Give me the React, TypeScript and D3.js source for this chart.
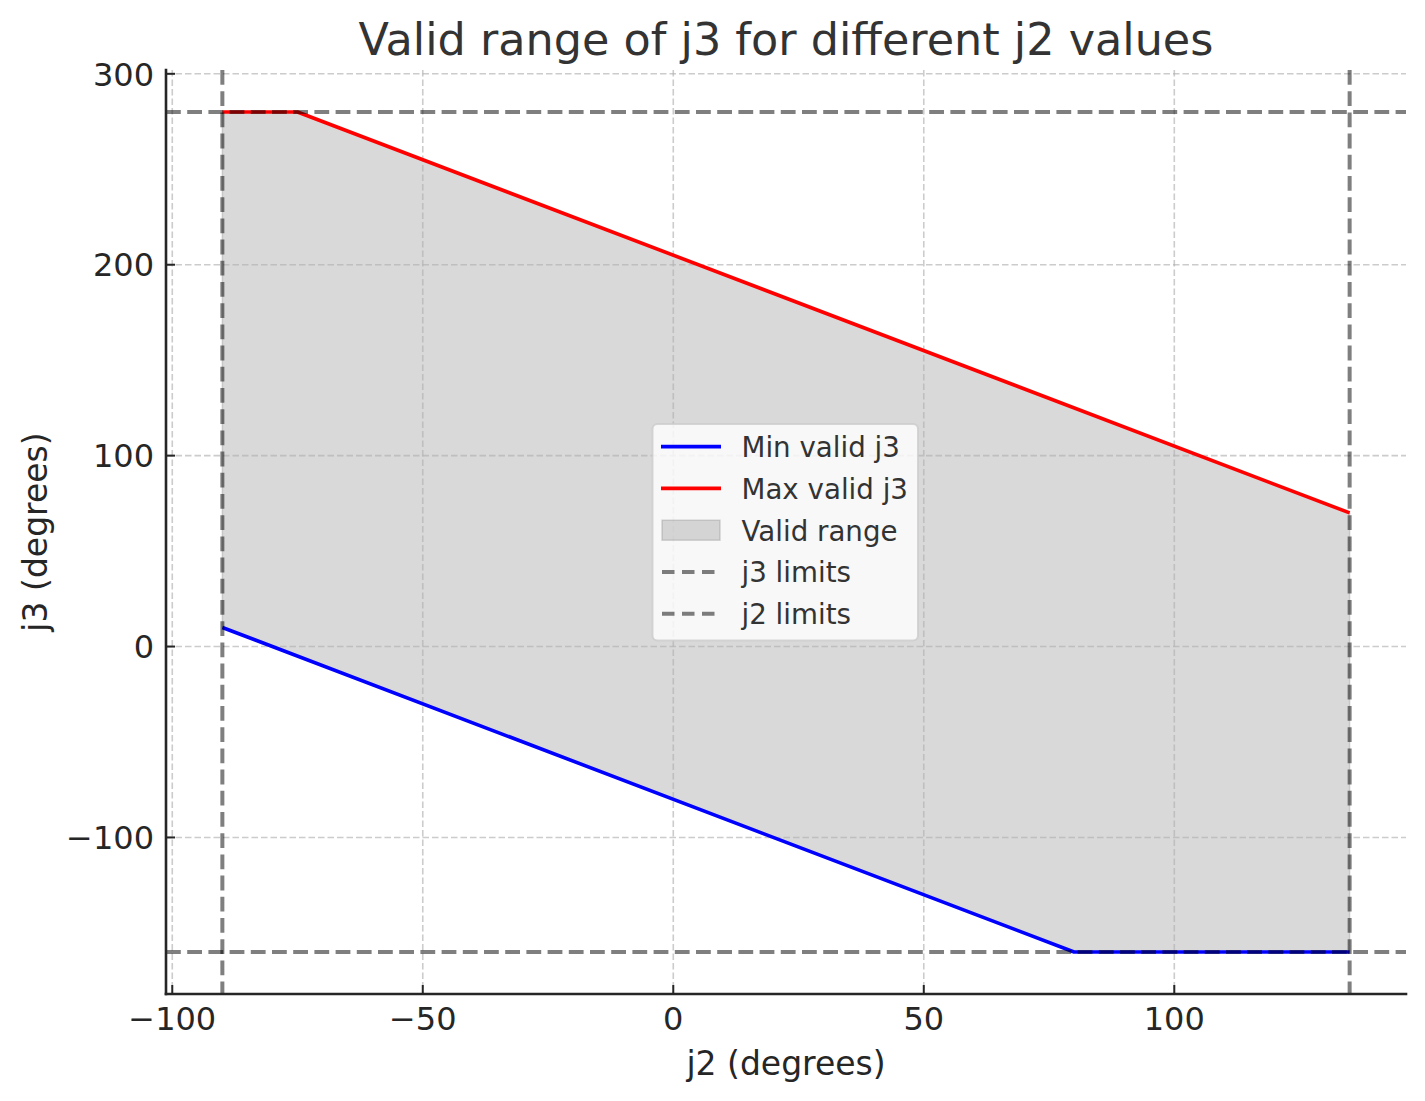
import React from "react";
import * as d3 from "d3";

// breakpoints of the valid-range boundaries
const minJ2 = [-90, 80, 135];
const minJ3 = [10, -160, -160];
const maxJ2 = [-90, -75, 135];
const maxJ3 = [280, 280, 70];

const j3Limits = [-160, 280];
const j2Limits = [-90, 135];

const xTicks = [-100, -50, 0, 50, 100];
const yTicks = [-100, 0, 100, 200, 300];

const legendLabels = ["Min valid j3", "Max valid j3", "Valid range", "j3 limits", "j2 limits"];

const FONT = "'DejaVu Sans', sans-serif";
const TEXT = "#262626";

export default function App() {
  const W = 1425;
  const H = 1101;
  const plot = { left: 166, right: 1406, top: 70, bottom: 994 };

  // matplotlib style 5% margins around the data range
  const x = d3.scaleLinear().domain([-101.25, 146.25]).range([plot.left, plot.right]);
  const y = d3.scaleLinear().domain([-182, 302]).range([plot.bottom, plot.top]);
  const fmt = d3.format("d");

  const minPts: [number, number][] = minJ2.map((v, i) => [v, minJ3[i]]);
  const maxPts: [number, number][] = maxJ2.map((v, i) => [v, maxJ3[i]]);

  const line = d3
    .line<[number, number]>()
    .x(d => x(d[0]))
    .y(d => y(d[1]));

  // polygon: upper boundary left->right, lower boundary back right->left
  const fillPath = line([...maxPts, ...minPts.slice().reverse()]) + "Z";

  const lg = { x: 652.5, y: 424, w: 265.5, h: 216.5 };
  const rowY = (i: number) => 446.6 + i * 41.8;
  const hx0 = 661;
  const hx1 = 721;

  return (
    <svg
      width={W}
      height={H}
      style={{ position: "absolute", left: 0, top: 0, background: "#fff" }}
      fontFamily={FONT}
    >
      <rect width={W} height={H} fill="#fff" />

      {/* valid range fill */}
      <path d={fillPath} fill="#808080" fillOpacity={0.3} stroke="#808080" strokeOpacity={0.3} strokeWidth={1.5} />

      {/* grid */}
      <g stroke="#b0b0b0" strokeOpacity={0.65} strokeWidth={1.6} strokeDasharray="6.5,3">
        {xTicks.map(t => (
          <line key={"gx" + t} x1={x(t)} x2={x(t)} y1={plot.top} y2={plot.bottom} />
        ))}
        {yTicks.map(t => (
          <line key={"gy" + t} x1={plot.left} x2={plot.right} y1={y(t)} y2={y(t)} />
        ))}
      </g>

      {/* boundaries */}
      <path d={line(minPts) || ""} fill="none" stroke="#0000ff" strokeWidth={3.6} strokeLinejoin="round" />
      <path d={line(maxPts) || ""} fill="none" stroke="#ff0000" strokeWidth={3.6} strokeLinejoin="round" />

      {/* limits */}
      <g stroke="#000" strokeOpacity={0.5} strokeWidth={4} strokeDasharray="14.8,6.4">
        {j3Limits.map(v => (
          <line key={"h" + v} x1={plot.left} x2={plot.right} y1={y(v)} y2={y(v)} />
        ))}
        {j2Limits.map(v => (
          <line key={"v" + v} x1={x(v)} x2={x(v)} y1={plot.top} y2={plot.bottom} />
        ))}
      </g>

      {/* spines */}
      <g stroke={TEXT} strokeWidth={2.6} strokeLinecap="square">
        <line x1={plot.left} x2={plot.left} y1={plot.top} y2={plot.bottom} />
        <line x1={plot.left} x2={plot.right} y1={plot.bottom} y2={plot.bottom} />
      </g>

      {/* ticks (inward) */}
      <g stroke={TEXT} strokeWidth={2}>
        {xTicks.map(t => (
          <line key={"tx" + t} x1={x(t)} x2={x(t)} y1={plot.bottom} y2={plot.bottom - 9} />
        ))}
        {yTicks.map(t => (
          <line key={"ty" + t} x1={plot.left} x2={plot.left + 9} y1={y(t)} y2={y(t)} />
        ))}
      </g>

      <g fill={TEXT} fontSize={32}>
        {xTicks.map(t => (
          <text key={"lx" + t} x={x(t)} y={1030} textAnchor="middle">
            {fmt(t)}
          </text>
        ))}
        {yTicks.map(t => (
          <text key={"ly" + t} x={154} y={y(t) + 11.7} textAnchor="end">
            {fmt(t)}
          </text>
        ))}
      </g>

      {/* labels and title */}
      <text x={(plot.left + plot.right) / 2} y={1075} textAnchor="middle" fontSize={33} fill={TEXT}>
        j2 (degrees)
      </text>
      <text
        transform={`translate(47, ${(plot.top + plot.bottom) / 2}) rotate(-90)`}
        textAnchor="middle"
        fontSize={33}
        fill={TEXT}
      >
        j3 (degrees)
      </text>
      <text x={(plot.left + plot.right) / 2} y={55} textAnchor="middle" fontSize={44.5} fill="#333">
        Valid range of j3 for different j2 values
      </text>

      {/* legend */}
      <g>
        <rect
          x={lg.x}
          y={lg.y}
          width={lg.w}
          height={lg.h}
          rx={5}
          fill="#fff"
          fillOpacity={0.8}
          stroke="#cccccc"
          strokeOpacity={0.8}
          strokeWidth={2}
        />
        <line x1={hx0} x2={hx1} y1={rowY(0)} y2={rowY(0)} stroke="#0000ff" strokeWidth={3.6} />
        <line x1={hx0} x2={hx1} y1={rowY(1)} y2={rowY(1)} stroke="#ff0000" strokeWidth={3.6} />
        <rect
          x={hx0 + 1}
          y={rowY(2) - 10}
          width={hx1 - hx0 - 2}
          height={20}
          fill="#808080"
          fillOpacity={0.3}
          stroke="#808080"
          strokeOpacity={0.3}
          strokeWidth={1.5}
        />
        {[3, 4].map(i => (
          <line
            key={"ld" + i}
            x1={hx0 + 1}
            x2={hx1}
            y1={rowY(i)}
            y2={rowY(i)}
            stroke="#000"
            strokeOpacity={0.5}
            strokeWidth={4}
            strokeDasharray="12.5,7.5"
          />
        ))}
        {legendLabels.map((l, i) => (
          <text key={l} x={741.5} y={rowY(i) + 10.3} fontSize={27.7} fill="#333">
            {l}
          </text>
        ))}
      </g>
    </svg>
  );
}
